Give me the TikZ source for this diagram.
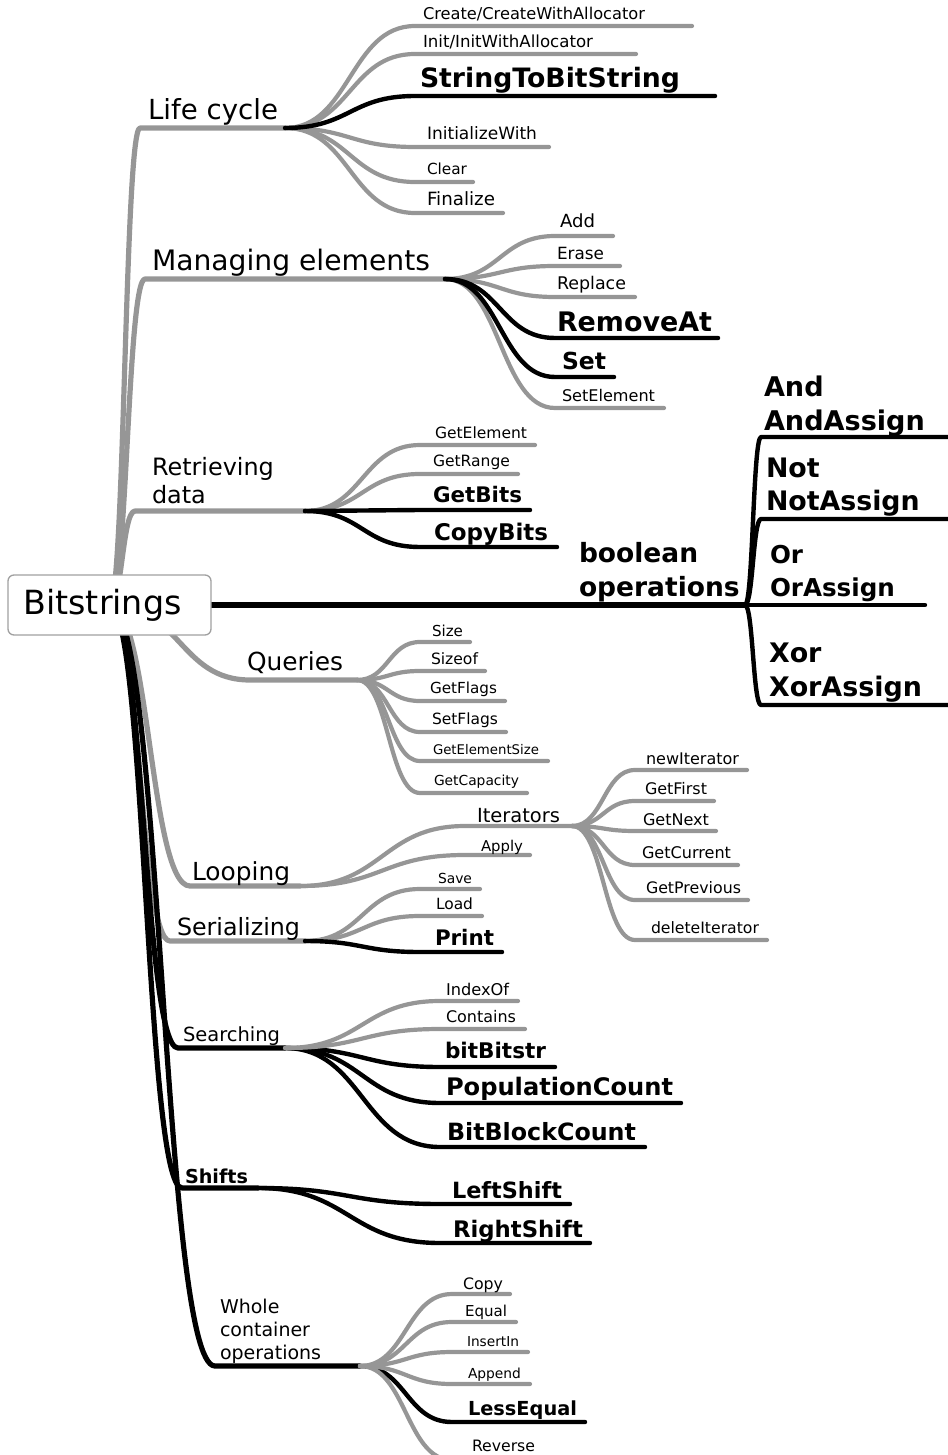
\documentclass[tikz,border=0pt]{standalone}
\usepackage{fontspec}
\setmainfont{DejaVu Sans}
\usepackage{graphicx}
\usetikzlibrary{calc}
\pgfdeclarelayer{bg}
\pgfsetlayers{bg,main}
\definecolor{lg}{RGB}{150,150,150}
\definecolor{rootc}{RGB}{160,160,160}
\tikzset{
 sc/.style={to path={let \p1=(\tikztostart), \p2=(\tikztotarget) in .. controls ({0.5*\x1+0.5*\x2},\y1) and ({0.5*\x1+0.5*\x2},\y2) .. (\tikztotarget)}},
 lbl/.style={anchor=base west, inner sep=0pt, outer sep=0pt},
 lf/.style={draw=lg, line width=4.2pt, line cap=round, line join=round},
 lb/.style={draw=black, line width=4.4pt, line cap=round, line join=round},
 gm/.style={draw=lg, line width=5.2pt, line cap=round, line join=round},
 bm/.style={draw=black, line width=5.2pt, line cap=round, line join=round},
}
\newcommand\RS[2]{\resizebox{#1pt}{!}{\fontsize{20}{24}\selectfont #2}}
\newcommand\RSB[2]{\resizebox{#1pt}{!}{\fontsize{20}{24}\selectfont\bfseries #2}}
\newcommand\ML[3]{\fontsize{#1}{#2}\selectfont\begin{tabular}[b]{@{}l@{}}#3\end{tabular}}
\newcommand\MLB[3]{\fontsize{#1}{#2}\selectfont\bfseries\begin{tabular}[b]{@{}l@{}}#3\end{tabular}}
% leaf: [style]{hub}{name}{lineY}{x0}{x1}{textX}{baseline}{text}
\newcommand\Lf[9][lf]{%
  \coordinate (#3s) at (#5,#4);
  \coordinate (#3e) at (#6,#4);
  \node[lbl] (#3) at (#7,#8) {#9};
  \begin{pgfonlayer}{bg}\draw[#1] (#2) to[sc] (#3s) -- (#3e);\end{pgfonlayer}%
}
% branch from root: [style]{name}{startX}{y}{hubX}{textX}{baseline}{text}
\newcommand\Br[8][gm]{%
  \coordinate (#2s) at (#3,#4);
  \coordinate (#2h) at (#5,#4);
  \node[lbl] (#2) at (#6,#7) {#8};
  \begin{pgfonlayer}{bg}\draw[#1] (root.center) to[sc] (#2s) -- (#2h);\end{pgfonlayer}%
}
\begin{document}
\begin{tikzpicture}[x=1pt,y=-1pt]
\useasboundingbox (0,0) rectangle (947,1455);
\node[draw=rootc, line width=1.3pt, fill=white, rounded corners=6pt, minimum width=203pt, minimum height=60pt, inner sep=0pt] (root) at (109.5,605) {\RS{158}{Bitstrings}\kern14pt};

% main branches
\Br{lc}{140}{128}{285}{148}{120}{\RS{130}{Life cycle}}
\Br{me}{145}{279}{445}{152}{270}{\RS{278}{Managing elements}}
\Br{rd}{135}{511}{305}{152}{503}{\ML{23.9}{28}{Retrieving\\data}}
\Br{qu}{250}{680}{357}{247}{670}{\RS{96}{Queries}}
\Br{lo}{190}{886}{300}{192}{880}{\RS{98}{Looping}}
\Br{se}{170}{941}{305}{177}{935}{\RS{123}{Serializing}}
\Br[bm]{sr}{178}{1048}{285}{183}{1041}{\RS{97}{Searching}}
\Br[bm]{sh}{182}{1188}{258}{185}{1183}{\RSB{63}{Shifts}}
\Br[bm]{wc}{215}{1366}{360}{220}{1359}{\ML{19}{23}{Whole\\container\\operations}}

% boolean operations
\coordinate (boh) at (745,605);
\node[lbl] (bo) at (579,596) {\MLB{26.5}{34}{boolean\\operations}};
\begin{pgfonlayer}{bg}\draw[bm] (root.center) -- (boh);\end{pgfonlayer}
\Lf[lb]{boh}{and}{437}{761}{960}{764}{430}{\MLB{27.1}{34}{And\\AndAssign}}
\Lf[lb]{boh}{not}{519}{761}{960}{766}{510}{\MLB{26.8}{33}{Not\\NotAssign}}
\Lf[lb]{boh}{or}{605}{761}{925}{770}{596}{\MLB{24.6}{33}{Or\\OrAssign}}
\Lf[lb]{boh}{xor}{705}{761}{960}{769}{696}{\MLB{26.9}{34}{Xor\\XorAssign}}

% Life cycle
\Lf{lch}{create}{26}{415}{692}{423}{20}{\RS{222}{Create/CreateWithAllocator}}
\Lf{lch}{init}{54}{415}{636}{423}{48}{\RS{170}{Init/InitWithAllocator}}
\Lf{lch}{initw}{147}{415}{549}{427}{140}{\RS{110}{InitializeWith}}
\Lf{lch}{clear}{182}{415}{473}{427}{175}{\RS{40}{Clear}}
\Lf{lch}{final}{213}{415}{503}{427}{206}{\RS{68}{Finalize}}
\Lf[lb]{lch}{stb}{96}{415}{715}{420}{88}{\RSB{260}{StringToBitString}}

% Managing elements
\Lf{meh}{add}{236}{555}{613}{560}{228}{\RS{35}{Add}}
\Lf{meh}{erase}{266}{555}{620}{557}{259}{\RS{47}{Erase}}
\Lf{meh}{replace}{297}{555}{635}{557}{289}{\RS{69}{Replace}}
\Lf{meh}{setel}{408}{555}{664}{562}{401}{\RS{93}{SetElement}}
\Lf[lb]{meh}{removeat}{338}{555}{718}{557}{331}{\RSB{155}{RemoveAt}}
\Lf[lb]{meh}{set}{377}{555}{614}{562}{369}{\RSB{44}{Set}}

% Retrieving data
\Lf{rdh}{getel}{445}{420}{535}{435}{438}{\RS{92}{GetElement}}
\Lf{rdh}{getrange}{474}{420}{518}{433}{466}{\RS{77}{GetRange}}
\Lf[lb]{rdh}{getbits}{510}{420}{530}{433}{502}{\RSB{89}{GetBits}}
\Lf[lb]{rdh}{copybits}{547}{420}{557}{434}{540}{\RSB{114}{CopyBits}}

% Queries
\Lf{quh}{size}{642}{420}{470}{432}{636}{\RS{31}{Size}}
\Lf{quh}{sizeof}{671}{420}{485}{431}{664}{\RS{47}{Sizeof}}
\Lf{quh}{getflags}{701}{420}{505}{430}{693}{\RS{67}{GetFlags}}
\Lf{quh}{setflags}{732}{420}{506}{432}{724}{\RS{66}{SetFlags}}
\Lf{quh}{getelsize}{761}{420}{548}{433}{754}{\RS{106}{GetElementSize}}
\Lf{quh}{getcap}{793}{420}{527}{434}{785}{\RS{85}{GetCapacity}}

% Looping
\Lf{loh}{iter}{826}{465}{572}{477}{822}{\RS{83}{Iterators}}
\Lf{loh}{apply}{855}{465}{530}{481}{851}{\RS{42}{Apply}}
\Lf{itere}{newit}{770}{635}{747}{646}{764}{\RS{93}{newIterator}}
\Lf{itere}{getfirst}{801}{635}{714}{645}{794}{\RS{62}{GetFirst}}
\Lf{itere}{getnext}{831}{635}{716}{643}{825}{\RS{66}{GetNext}}
\Lf{itere}{getcur}{865}{635}{738}{642}{858}{\RS{89}{GetCurrent}}
\Lf{itere}{getprev}{900}{635}{748}{646}{893}{\RS{95}{GetPrevious}}
\Lf{itere}{delit}{940}{635}{767}{651}{933}{\RS{108}{deleteIterator}}

% Serializing
\Lf{seh}{save}{889}{420}{480}{438}{883}{\RS{34}{Save}}
\Lf{seh}{load}{916}{420}{482}{436}{909}{\RS{37}{Load}}
\Lf[lb]{seh}{print}{952}{420}{502}{435}{945}{\RSB{59}{Print}}

% Searching
\Lf[lb]{srh}{bitbitstr}{1067}{440}{555}{445}{1058}{\RSB{101}{bitBitstr}}
\Lf[lb]{srh}{popcount}{1103}{440}{681}{446}{1095}{\RSB{227}{PopulationCount}}
\Lf[lb]{srh}{bbcount}{1147}{440}{645}{447}{1140}{\RSB{189}{BitBlockCount}}
\Lf{srh}{indexof}{1001}{440}{518}{446}{995}{\RS{63}{IndexOf}}
\Lf{srh}{contains}{1029}{440}{525}{446}{1022}{\RS{70}{Contains}}

% Shifts
\Lf[lb]{shh}{lshift}{1204}{440}{570}{452}{1198}{\RSB{110}{LeftShift}}
\Lf[lb]{shh}{rshift}{1243}{440}{590}{453}{1237}{\RSB{130}{RightShift}}

% Whole container operations
\Lf[lb]{wch}{lesseq}{1422}{452}{585}{468}{1415}{\RSB{109}{LessEqual}}
\Lf{wch}{copy}{1294}{452}{510}{463}{1289}{\RS{40}{Copy}}
\Lf{wch}{equal}{1322}{452}{516}{465}{1316}{\RS{42}{Equal}}
\Lf{wch}{insertin}{1352}{452}{528}{467}{1346}{\RS{52}{InsertIn}}
\Lf{wch}{append}{1384}{452}{530}{468}{1378}{\RS{53}{Append}}
\Lf{wch}{reverse}{1460}{452}{540}{472}{1451}{\RS{63}{Reverse}}
\end{tikzpicture}
\end{document}
